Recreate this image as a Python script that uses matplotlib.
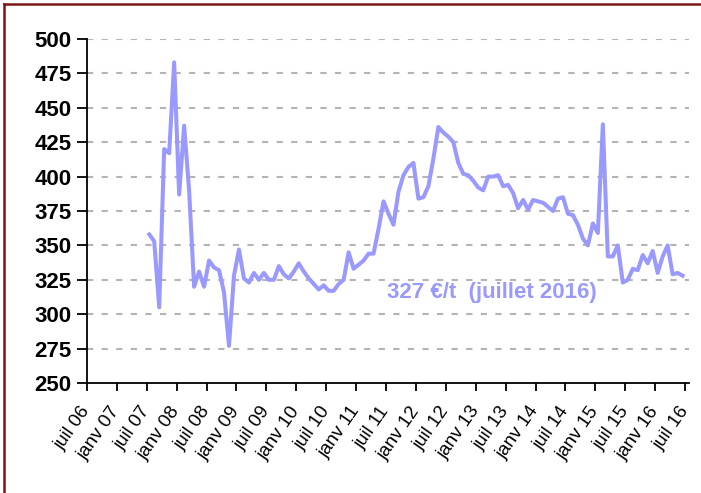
import numpy as np
import matplotlib.pyplot as plt
from matplotlib.lines import Line2D

# monthly price (EUR/t), from aout 2007 to juillet 2016
prices = [
    358, 353, 305, 420, 417, 483, 387, 437, 390, 320,
    331, 320, 339, 334, 332, 316, 277, 328, 347, 326,
    323, 330, 325, 330, 325, 325, 335, 329, 326, 331,
    337, 331, 326, 322, 318, 321, 317, 317, 322, 325,
    345, 333, 336, 339, 344, 344, 362, 382, 373, 365,
    389, 401, 407, 410, 384, 385, 393, 413, 436, 432,
    429, 425, 410, 402, 401, 397, 392, 390, 400, 400,
    401, 393, 394, 388, 377, 383, 376, 383, 382, 381,
    378, 375, 384, 385, 373, 372, 365, 355, 350, 366,
    359, 438, 342, 342, 350, 323, 325, 333, 332, 343,
    337, 346, 330, 342, 350, 329, 330, 328,
]
first_month = 13  # months after juil 06 (aout 07)

tick_labels = [
    "juil 06", "janv 07", "juil 07", "janv 08", "juil 08", "janv 09",
    "juil 09", "janv 10", "juil 10", "janv 11", "juil 11", "janv 12",
    "juil 12", "janv 13", "juil 13", "janv 14", "juil 14", "janv 15",
    "juil 15", "janv 16", "juil 16",
]
y_ticks = [250, 275, 300, 325, 350, 375, 400, 425, 450, 475, 500]
note = "327 €/t  (juillet 2016)"

line_color = "#9999FF"
plt.rcParams["font.family"] = ["Liberation Sans", "DejaVu Sans"]

fig = plt.figure(figsize=(7.01, 4.93), dpi=100)
ax = fig.add_axes([0.124, 0.223, 0.859, 0.698])

months = np.arange(first_month, first_month + len(prices)) - 0.5
ax.plot(months, prices, color=line_color, linewidth=2.9, solid_joinstyle="round")

ax.set_ylim(250, 500)
ax.set_yticks(y_ticks)
ax.set_yticklabels([str(v) for v in y_ticks], fontsize=16, fontweight="bold")
ax.set_xlim(0, 120.8)
ax.set_xticks(np.arange(0, 6 * len(tick_labels), 6))
ax.set_xticklabels(tick_labels, rotation=55, ha="right", va="center",
                   rotation_mode="anchor", fontsize=13.5)

for v in y_ticks[1:]:
    ax.axhline(v, color="#B4B4B4", linewidth=1.5, dashes=(3, 4), zorder=0)

for side in ["top", "right"]:
    ax.spines[side].set_visible(False)
for side in ["left", "bottom"]:
    ax.spines[side].set_linewidth(1.3)
ax.tick_params(axis="y", direction="out", length=7, width=1.3, pad=4)
ax.tick_params(axis="x", direction="out", length=6, width=1.3, pad=12)

ax.text(81.2, 315.5, note, color=line_color, fontsize=16, fontweight="bold",
        ha="center", va="center")

# dark red frame edge (left and top)
frame = "#7A1616"
fig.add_artist(Line2D([0.006, 0.006], [0, 0.992], color=frame, linewidth=1.8))
fig.add_artist(Line2D([0.006, 1.0], [0.992, 0.992], color=frame, linewidth=1.8))

fig.savefig("out.png", dpi=100)
